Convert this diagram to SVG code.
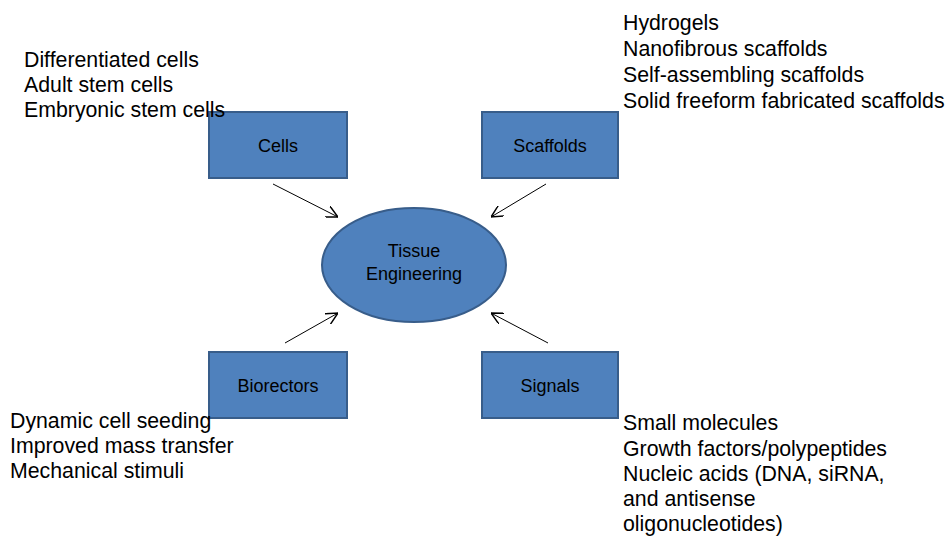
<svg xmlns="http://www.w3.org/2000/svg" width="946" height="536" viewBox="0 0 946 536">
<defs>
<style>
.node{fill:#4F81BD;stroke:#385D8A;stroke-width:2}
.lbl{font-family:"Liberation Sans",Arial,sans-serif;font-size:18px;fill:#000;text-anchor:middle}
.lst{font-family:"Liberation Sans",Arial,sans-serif;font-size:21.3px;fill:#000}
.conn{stroke:#000;stroke-width:1;fill:none;marker-end:url(#ah)}
</style>
<marker id="ah" viewBox="0 0 10 10" refX="10" refY="5" markerWidth="12" markerHeight="12" markerUnits="userSpaceOnUse" orient="auto">
<path d="M0,0 L10,5 L0,10" fill="none" stroke="#000" stroke-width="1.2"/>
</marker>
</defs>
<rect width="946" height="536" fill="#fff"/>
<g id="connectors">
<line class="conn" x1="273" y1="184" x2="338" y2="217"/>
<line class="conn" x1="546" y1="184" x2="491" y2="217"/>
<line class="conn" x1="285" y1="343" x2="338" y2="313"/>
<line class="conn" x1="548" y1="343" x2="491" y2="313"/>
</g>
<g id="cells">
<rect class="node" x="209" y="112" width="138" height="66"/>
<text class="lbl" x="278" y="152">Cells</text>
</g>
<g id="scaffolds">
<rect class="node" x="482" y="112" width="136" height="66"/>
<text class="lbl" x="550" y="152">Scaffolds</text>
</g>
<g id="bioreactors">
<rect class="node" x="209" y="352" width="138" height="66"/>
<text class="lbl" x="278" y="392">Biorectors</text>
</g>
<g id="signals">
<rect class="node" x="482" y="352" width="136" height="66"/>
<text class="lbl" x="550" y="392">Signals</text>
</g>
<g id="tissue-engineering">
<ellipse class="node" cx="414" cy="265" rx="92" ry="57"/>
<text class="lbl" x="414" y="257">Tissue</text>
<text class="lbl" x="414" y="280">Engineering</text>
</g>
<g id="cells-list">
<text class="lst" x="24" y="67">Differentiated cells</text>
<text class="lst" x="24" y="92">Adult stem cells</text>
<text class="lst" x="24" y="117">Embryonic stem cells</text>
</g>
<g id="scaffolds-list">
<text class="lst" x="623" y="30">Hydrogels</text>
<text class="lst" x="623" y="56">Nanofibrous scaffolds</text>
<text class="lst" x="623" y="82">Self-assembling scaffolds</text>
<text class="lst" x="623" y="108">Solid freeform fabricated scaffolds</text>
</g>
<g id="bioreactors-list">
<text class="lst" x="10" y="428">Dynamic cell seeding</text>
<text class="lst" x="10" y="453">Improved mass transfer</text>
<text class="lst" x="10" y="478">Mechanical stimuli</text>
</g>
<g id="signals-list">
<text class="lst" x="623" y="430">Small molecules</text>
<text class="lst" x="623" y="456">Growth factors/polypeptides</text>
<text class="lst" x="623" y="481">Nucleic acids (DNA, siRNA,</text>
<text class="lst" x="623" y="506">and antisense</text>
<text class="lst" x="623" y="531">oligonucleotides)</text>
</g>
</svg>
